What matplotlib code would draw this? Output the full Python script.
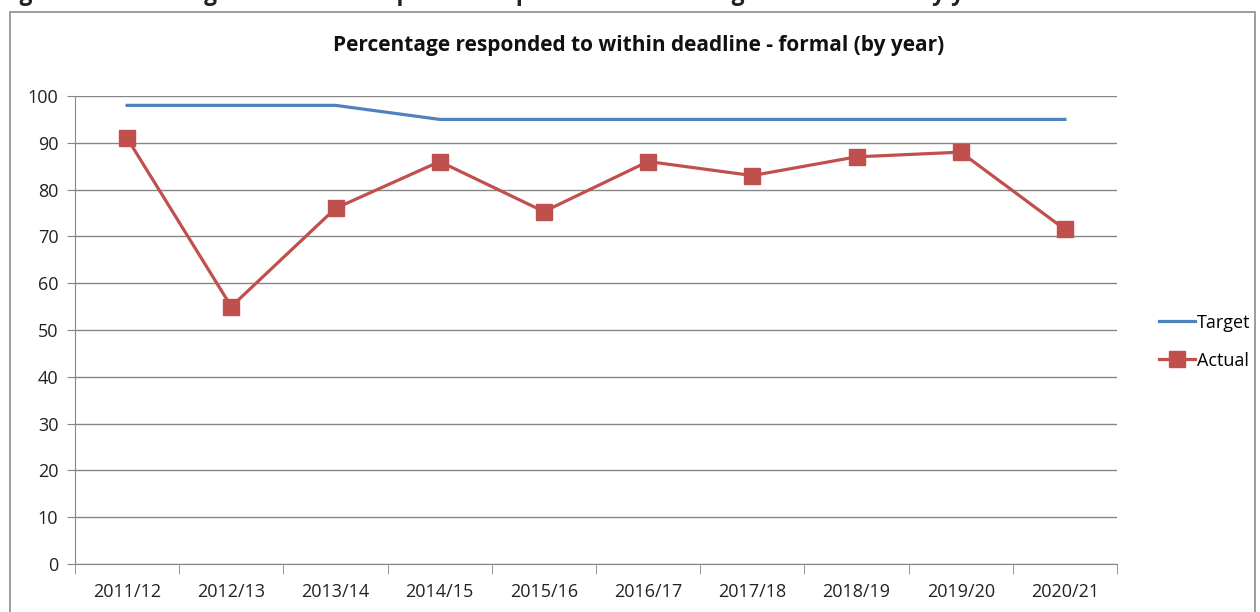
import matplotlib.pyplot as plt
from matplotlib.patches import Rectangle

years = ["2011/12", "2012/13", "2013/14", "2014/15", "2015/16",
         "2016/17", "2017/18", "2018/19", "2019/20", "2020/21"]
target = [98, 98, 98, 95, 95, 95, 95, 95, 95, 95]
actual = [91, 55, 76, 86, 75.3, 86, 83, 87, 88, 71.5]

plt.rcParams['font.family'] = ['Open Sans', 'DejaVu Sans']

fig = plt.figure(figsize=(12.6, 6.12), dpi=100)
ax = fig.add_axes([75 / 1260, 1 - 564 / 612, (1117 - 75) / 1260, (564 - 96) / 612])

# chart frame (cut off at the bottom in the original)
fig.patches.append(Rectangle((10 / 1260, -0.05), 1245 / 1260, 1 - 12 / 612 + 0.05,
                             transform=fig.transFigure, fill=False,
                             edgecolor='#8c8c8c', linewidth=1.2))
# caption above the frame, partly cut off as in the source
fig.text(0.0, 1.01, "Figure 4: Percentage of formal complaints responded to within agreed timescale by year",
         fontsize=16.5, fontweight='bold', va='center', ha='left', color='#222222')

x = list(range(len(years)))
ax.plot(x, target, color='#4F81BD', linewidth=2.3, label='Target')
ax.plot(x, actual, color='#C0504D', linewidth=2.3, marker='s', markersize=11,
        label='Actual')

ax.set_xlim(-0.5, len(years) - 0.5)
ax.set_ylim(0, 100)
ax.set_yticks(range(0, 101, 10))
ax.set_xticks(x)
ax.set_xticklabels(years, fontsize=13, color='#222222')
ax.set_xticks([i - 0.5 for i in range(len(years) + 1)], minor=True)
ax.tick_params(axis='x', which='major', length=0, pad=14)
ax.tick_params(axis='x', which='minor', length=7, color='#868686')
ax.tick_params(axis='y', length=6, color='#868686', labelsize=13, labelcolor='#222222', pad=6)
ax.grid(axis='y', color='#868686', linewidth=1)
ax.set_axisbelow(True)
for s in ['top', 'right']:
    ax.spines[s].set_visible(False)
ax.spines['left'].set_color('#868686')
ax.spines['bottom'].set_color('#868686')

fig.text(639 / 1260, 1 - 45 / 612,
         "Percentage responded to within deadline - formal (by year)",
         ha='center', va='center', fontsize=15, fontweight='bold', color='#111111')

ax.legend(loc='center left', bbox_to_anchor=(1.025, 0.475), frameon=False,
          fontsize=13, handlelength=2.0, handletextpad=0.1, labelspacing=1.1)

fig.savefig("out.png", dpi=100)
